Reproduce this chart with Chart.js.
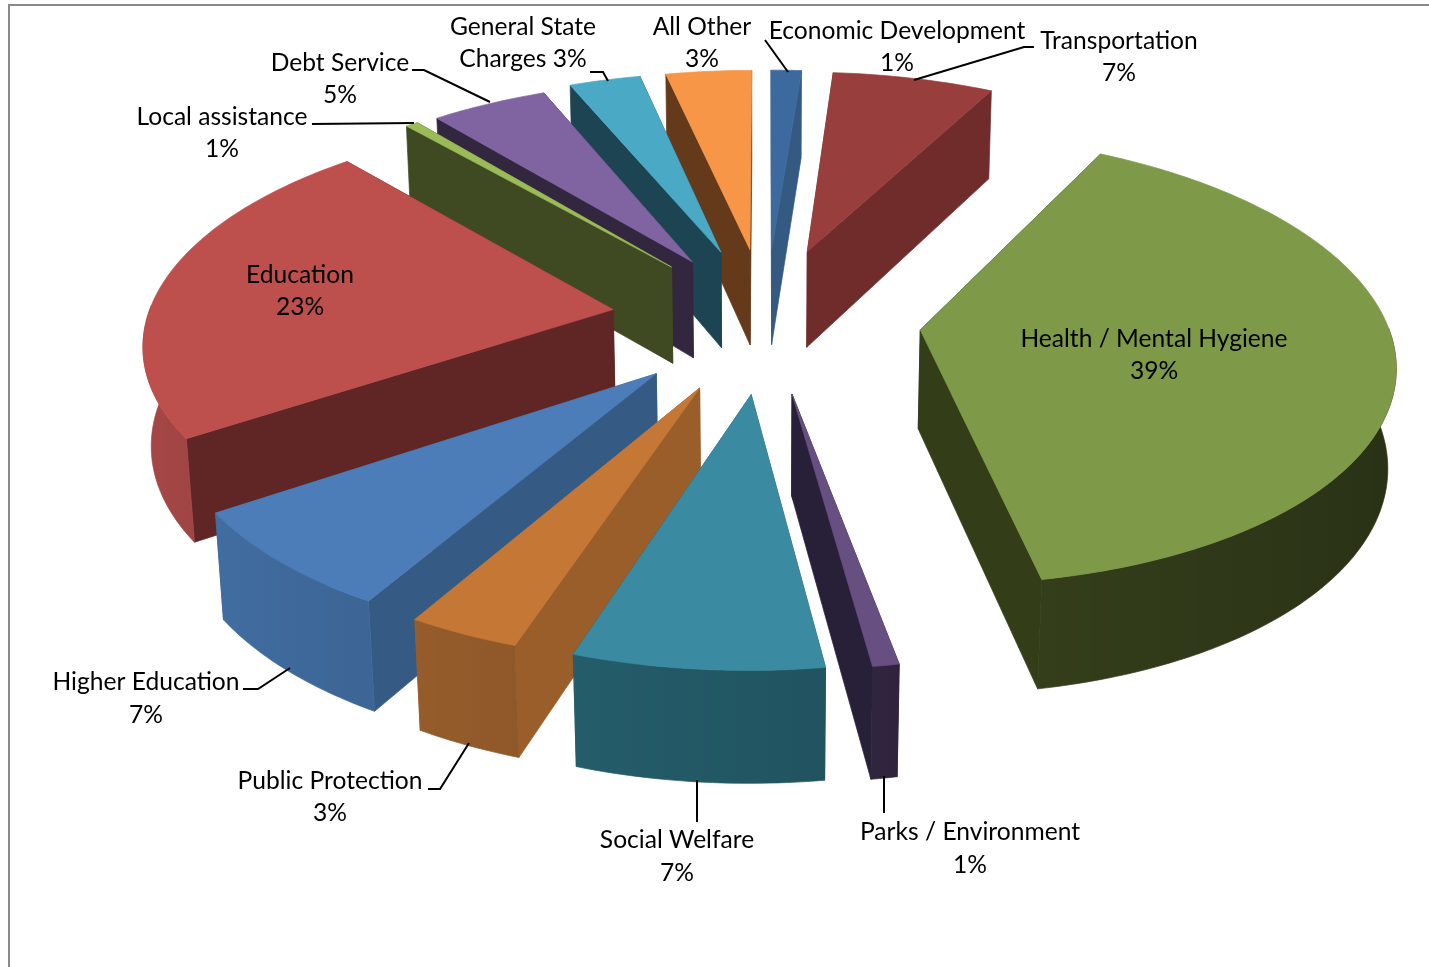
<!DOCTYPE html>
<html><head><meta charset="utf-8">
<style>
html,body{margin:0;padding:0;background:#fff;overflow:hidden}
#frame{position:absolute;left:8px;top:4px;width:1421px;height:963px;border-left:2px solid #8a8a8a;border-top:2px solid #8a8a8a;box-sizing:border-box}
canvas{position:absolute;left:0;top:0}
</style>
<script src="https://cdn.jsdelivr.net/npm/chart.js@4"></script>
</head><body>
<div id="frame"></div>
<canvas id="c" width="1429" height="967"></canvas>
<script>
const categories=["Economic Development","Transportation","Health / Mental Hygiene","Parks / Environment","Social Welfare","Public Protection","Higher Education","Education","Local assistance","Debt Service","General State Charges","All Other"];
const percents=[1,7,39,1,7,3,7,23,1,5,3,3];
const values=[1.22,6.5,39.33,0.77,7.28,3.3,7.25,22.85,0.5,4.68,2.87,3.45];
const explode=[155,155,155,155,155,155,155,155,150,147,155,155];
const topColors=["#3c6a9e","#983e3c","#7e9947","#674f82","#3a8ba2","#c57835","#4c7db8","#bd4f4c","#9bbb59","#8064a2","#4aa9c5","#f79646"];
const wallColors=["#345a82","#6f2c2b","#333d18","#281f38","#1f4d5a","#995e29","#355a84","#5f2625","#3f4a22","#33263f","#1d4452","#653a1a"];
const rimColors=["#345a82","#6f2c2b","#36411c","#322640","#225663","#855226","#365a85","#853938","#3f4a22","#33263f","#1d4452","#653a1a"];
const view={cx:766,cy:319,R:466,elev:28,D:3200,h:113,zDepth:0.8};
const labelLayout=[
 {x:897,y:[31,63],lead:[[765,40],[788,72]]},
 {x:1119,y:[41,73],lead:[[1034,47],[1024,47],[914,80]]},
 {x:1154,y:[339,371]},
 {x:970,y:[832,865],lead:[[884,776],[884,813]]},
 {x:677,y:[840,873],lead:[[697,780],[697,822]]},
 {x:330,y:[781,813],lead:[[428,789],[440,789],[469,743]]},
 {x:146,y:[682,715],lead:[[243,689],[258,689],[290,668]]},
 {x:300,y:[275,307]},
 {x:222,y:[117,149],lead:[[312,124],[414,123]]},
 {x:340,y:[63,95],lead:[[412,70],[424,70],[490,102]]},
 {x:523,y:[27,59],lines:["General State","Charges 3%"],lead:[[590,72],[603,72],[608,81]]},
 {x:702,y:[27,59],lines:["All Other","3%"]}
];
const el=view.elev*Math.PI/180, sinE=Math.sin(el), cosE=Math.cos(el);
function project(X,Y,Z){
  const toward=Y*cosE+Z*sinE*view.zDepth, s=view.D/(view.D-toward);
  return [view.cx+X*s, view.cy+(Y*sinE-Z*cosE)*s];
}
function poly(ctx,pts,fill){
  ctx.beginPath();pts.forEach((p,i)=>i?ctx.lineTo(p[0],p[1]):ctx.moveTo(p[0],p[1]));ctx.closePath();
  ctx.fillStyle=fill;ctx.strokeStyle=fill;ctx.lineWidth=0.7;ctx.fill();ctx.stroke();
}
function shade(hex,f){
  const n=parseInt(hex.slice(1),16);
  const c=[n>>16,(n>>8)&255,n&255].map(v=>Math.max(0,Math.min(255,Math.round(v*f))));
  return `rgb(${c[0]},${c[1]},${c[2]})`;
}
function drawSlice(ctx,a,i){
  const k=view.R/a.outerRadius, r=a.outerRadius*k, e=a.options.offset;
  const a0=a.startAngle,a1=a.endAngle,m=(a0+a1)/2;
  const ox=e*Math.cos(m), oy=e*Math.sin(m), h=view.h;
  const n=Math.max(2,Math.ceil((a1-a0)/(Math.PI/180)));
  const rim=t=>[ox+r*Math.cos(t),oy+r*Math.sin(t)];
  const topPts=[project(ox,oy,0)];
  for(let j=0;j<=n;j++){const t=a0+(a1-a0)*j/n,p=rim(t);topPts.push(project(p[0],p[1],0));}
  const walls=[a0,a1].map(t=>{const p=rim(t);return {y:(oy+p[1])/2,pts:[project(ox,oy,0),project(p[0],p[1],0),project(p[0],p[1],-h),project(ox,oy,-h)]};});
  walls.sort((u,v)=>u.y-v.y);
  walls.forEach(w=>poly(ctx,w.pts,wallColors[i]));
  const vis=[];
  for(let j=0;j<=n;j++){const t=a0+(a1-a0)*j/n; if(Math.sin(t)>=-0.02) vis.push(t);}
  if(vis.length>1){
    const upper=vis.map(t=>{const p=rim(t);return project(p[0],p[1],0);});
    const lower=vis.map(t=>{const p=rim(t);return project(p[0],p[1],-h);}).reverse();
    const x0=upper[upper.length-1][0],x1=upper[0][0];
    const g=ctx.createLinearGradient(Math.min(x0,x1),0,Math.max(x0,x1)+0.01,0);
    vis.forEach(t=>{
      const p=rim(t),x=project(p[0],p[1],0)[0];
      const u=Math.max(0,Math.min(1,(x-Math.min(x0,x1))/(Math.abs(x1-x0)+0.01)));
      g.addColorStop(u,shade(rimColors[i],1-0.25*Math.cos(t)));
    });
    poly(ctx,upper.concat(lower),g);
  }
  poly(ctx,topPts,topColors[i]);
}
const pie3d={
  id:'pie3d',
  beforeDatasetDraw(chart,args){
    const ctx=chart.ctx, arcs=chart.getDatasetMeta(args.index).data;
    const order=arcs.map((a,i)=>i).sort((p,q)=>{
      const sy=a=>Math.sin((a.startAngle+a.endAngle)/2)*(a.options.offset+100);
      return sy(arcs[p])-sy(arcs[q]);
    });
    order.forEach(i=>drawSlice(ctx,arcs[i],i));
    return false;
  },
  afterDatasetsDraw(chart){
    const ctx=chart.ctx;
    ctx.save();
    ctx.strokeStyle='#000';ctx.lineWidth=2;ctx.lineJoin='miter';
    labelLayout.forEach(l=>{
      if(!l.lead) return;
      ctx.beginPath();l.lead.forEach((p,i)=>i?ctx.lineTo(p[0],p[1]):ctx.moveTo(p[0],p[1]));ctx.stroke();
    });
    ctx.fillStyle='#000';ctx.font='24.6px Lato';ctx.textAlign='center';ctx.textBaseline='middle';
    labelLayout.forEach((l,i)=>{
      const lines=l.lines||[categories[i],percents[i]+'%'];
      lines.forEach((t,j)=>ctx.fillText(t,l.x,l.y[j]));
    });
    ctx.restore();
  }
};
new Chart(document.getElementById('c'),{
  type:'pie',
  data:{labels:categories,datasets:[{data:values,backgroundColor:topColors,offset:explode,borderWidth:0}]},
  options:{responsive:false,animation:false,rotation:0,plugins:{legend:{display:false},tooltip:{enabled:false}},layout:{padding:0}},
  plugins:[pie3d]
});
</script>
</body></html>
